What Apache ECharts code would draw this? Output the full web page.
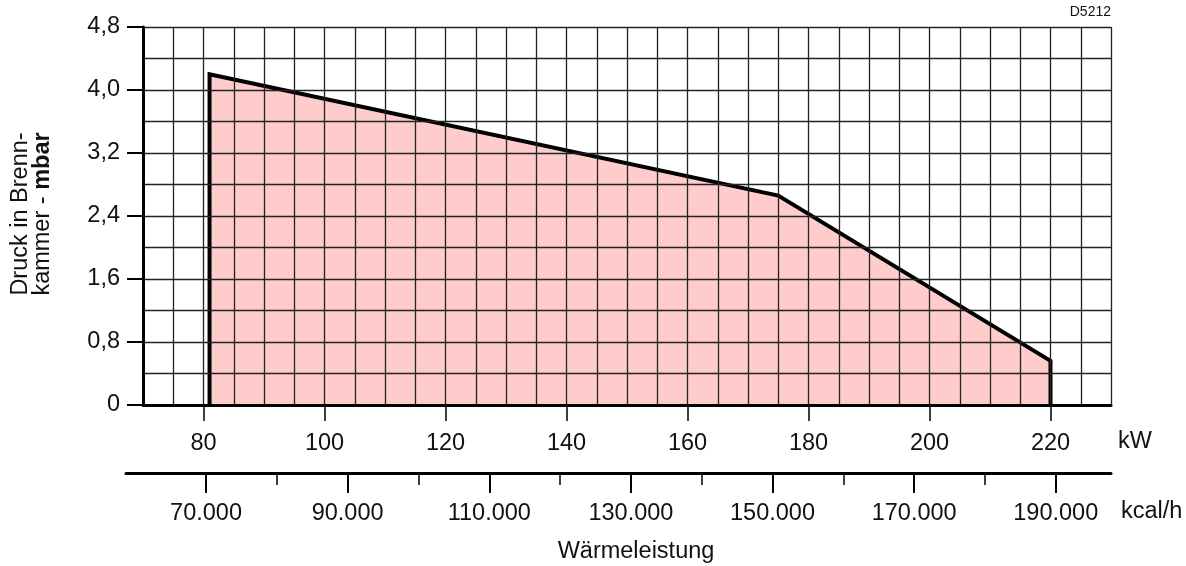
<!DOCTYPE html>
<html>
<head>
<meta charset="utf-8">
<script src="https://cdn.jsdelivr.net/npm/echarts@6/dist/echarts.min.js"></script>
<style>html,body{margin:0;padding:0;background:#fff;}#c{width:1186px;height:566px;}</style>
</head>
<body>
<div id="c"></div>
<script>
// ---- data ----
const kwPoints = [81, 81, 175, 220, 220];
const mbarPoints = [0, 4.2, 2.66, 0.56, 0];
const kwTicks = [80, 100, 120, 140, 160, 180, 200, 220];
const kcalMajorTicks = [70000, 90000, 110000, 130000, 150000, 170000, 190000];
const kcalMinorTicks = [80000, 100000, 120000, 140000, 160000, 180000];
const mbarTicks = [0, 0.8, 1.6, 2.4, 3.2, 4.0, 4.8];

const FONT = '"Liberation Sans", Arial, Helvetica, sans-serif';
const FS = 23.5;
const TXT = '#111';
const GRIDC = '#222';

const chart = echarts.init(document.getElementById('c'), null, {renderer: 'canvas'});
const areaData = kwPoints.map((x, i) => [x, mbarPoints[i]]);

chart.setOption({
  animation: false,
  backgroundColor: '#fff',
  grid: [
    {left: 143, right: 75, top: 27, bottom: 161},
    {left: 126, right: 75, top: 472, height: 1}
  ],
  xAxis: [
    { // grid lines
      gridIndex: 0, type: 'value', position: 'top', min: 70, max: 230, interval: 5, z: 3,
      axisLine: {show: false}, axisTick: {show: false}, axisLabel: {show: false},
      splitLine: {show: true, lineStyle: {color: GRIDC, width: 1.3}}
    },
    { // kW labels
      gridIndex: 0, type: 'value', position: 'bottom', min: 70, max: 230, z: 4,
      axisLine: {show: true, onZero: false, lineStyle: {color: '#000', width: 3}},
      axisTick: {show: true, customValues: kwTicks, length: 16, lineStyle: {color: '#000', width: 1.5}},
      axisLabel: {show: true, customValues: kwTicks, margin: 27, fontSize: FS, lineHeight: FS, fontFamily: FONT, color: TXT},
      splitLine: {show: false}
    },
    { // kcal/h major
      gridIndex: 1, type: 'value', position: 'bottom', min: 58700, max: 197800,
      axisLine: {show: true, onZero: false, lineStyle: {color: '#000', width: 3}},
      axisTick: {show: true, customValues: kcalMajorTicks, length: 20, lineStyle: {color: '#000', width: 2}},
      axisLabel: {show: true, customValues: kcalMajorTicks, margin: 29, fontSize: FS, lineHeight: FS, fontFamily: FONT, color: TXT,
        formatter: v => Math.round(v / 1000) + '.000'},
      splitLine: {show: false}
    },
    { // kcal/h minor
      gridIndex: 1, type: 'value', position: 'bottom', min: 58700, max: 197800,
      axisLine: {show: false, onZero: false},
      axisTick: {show: true, customValues: kcalMinorTicks, length: 12, lineStyle: {color: '#000', width: 1.5}},
      axisLabel: {show: false},
      splitLine: {show: false}
    }
  ],
  yAxis: [
    { // grid lines
      gridIndex: 0, type: 'value', position: 'right', min: 0, max: 4.8, interval: 0.4, z: 3,
      axisLine: {show: false}, axisTick: {show: false}, axisLabel: {show: false},
      splitLine: {show: true, lineStyle: {color: GRIDC, width: 1.3}}
    },
    { // labels
      gridIndex: 0, type: 'value', position: 'left', min: 0, max: 4.8, z: 4,
      axisLine: {show: true, onZero: false, lineStyle: {color: '#000', width: 3}},
      axisTick: {show: true, customValues: mbarTicks, length: 16, lineStyle: {color: '#000', width: 2}},
      axisLabel: {show: true, customValues: mbarTicks, margin: 23, fontSize: FS, fontFamily: FONT, color: TXT,
        formatter: v => v === 0 ? '0' : v.toFixed(1).replace('.', ',')},
      splitLine: {show: false}
    },
    {gridIndex: 1, type: 'value', min: 0, max: 1, show: false}
  ],
  series: [{
    type: 'line',
    xAxisIndex: 0, yAxisIndex: 0,
    data: areaData,
    symbol: 'none',
    z: 2,
    lineStyle: {color: '#000', width: 4, join: 'miter'},
    areaStyle: {color: '#ffcccc', opacity: 1, origin: 'start'}
  }],
  graphic: [
    {type: 'text', x: 32, y: 214, rotation: Math.PI / 2,
      style: {text: 'Druck in Brenn-\nkammer - {b|mbar}', align: 'center', verticalAlign: 'middle',
        font: FS + 'px ' + FONT, fill: TXT, lineHeight: 22,
        rich: {b: {fontWeight: 'bold', fontSize: FS, fontFamily: FONT, fill: TXT, lineHeight: 22}}}},
    {type: 'text', x: 1135, y: 442, style: {text: 'kW', align: 'center', verticalAlign: 'middle', font: FS + 'px ' + FONT, fill: TXT}},
    {type: 'text', x: 1121, y: 512, style: {text: 'kcal/h', align: 'left', verticalAlign: 'middle', font: FS + 'px ' + FONT, fill: TXT}},
    {type: 'text', x: 636, y: 552, style: {text: 'Wärmeleistung', align: 'center', verticalAlign: 'middle', font: FS + 'px ' + FONT, fill: TXT}},
    {type: 'text', x: 1111, y: 12, style: {text: 'D5212', align: 'right', verticalAlign: 'middle', font: '14px ' + FONT, fill: TXT}}
  ]
});
</script>
</body>
</html>
